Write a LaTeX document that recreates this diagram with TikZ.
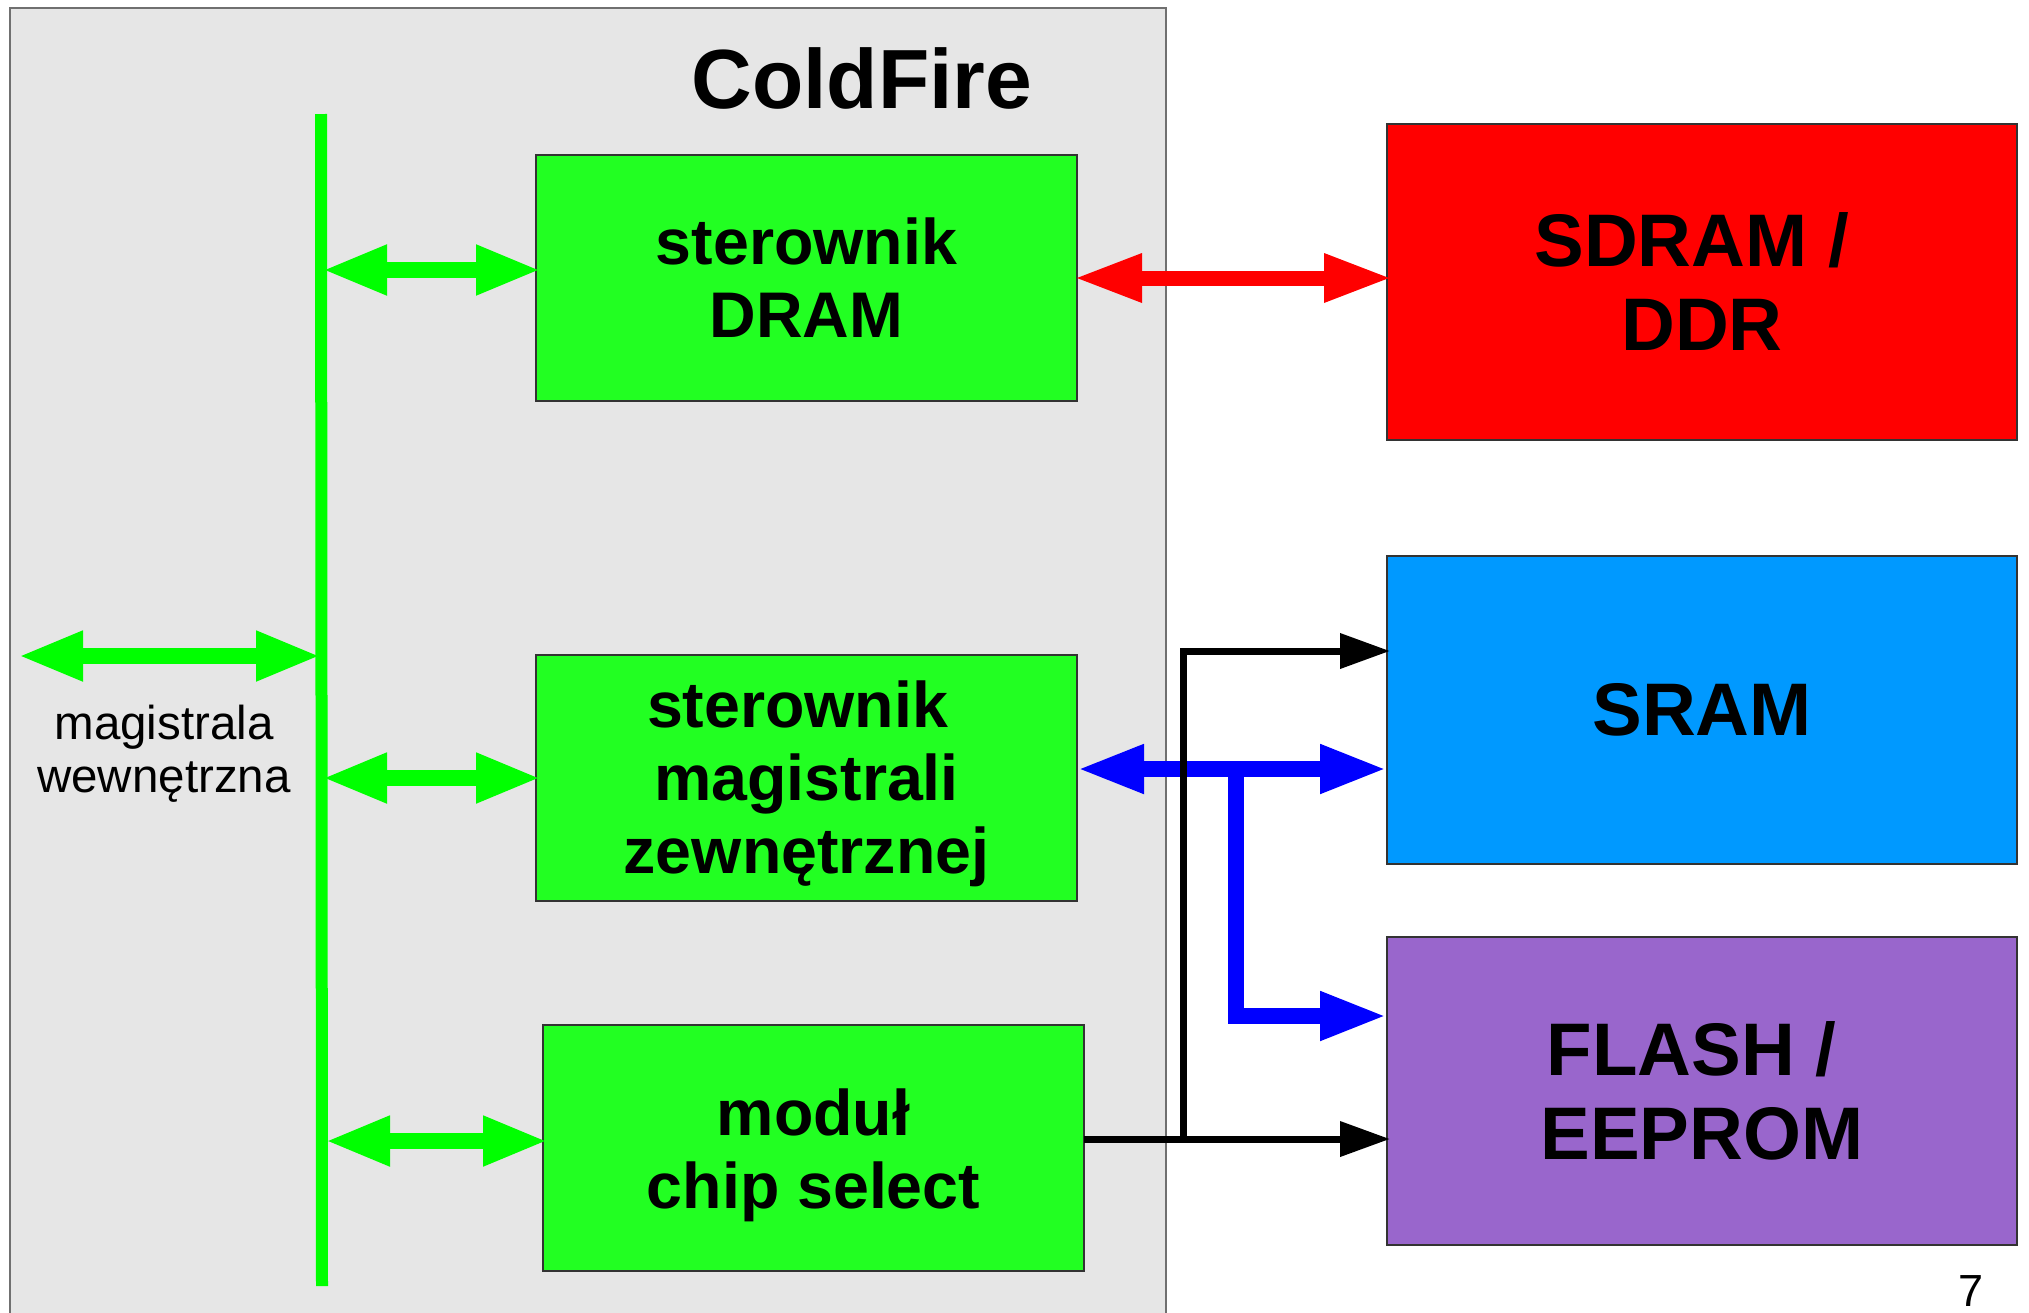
\documentclass[tikz,border=0pt]{standalone}
\usepackage{fontspec}
\setmainfont{Liberation Sans}
\usetikzlibrary{arrows.meta}
\definecolor{bggray}{HTML}{E6E6E6}
\definecolor{boxgreen}{HTML}{22FF22}
\definecolor{busgreen}{HTML}{00FF00}
\definecolor{sdramred}{HTML}{FF0000}
\definecolor{sramblue}{HTML}{0099FF}
\definecolor{flashviolet}{HTML}{9966CC}
\definecolor{edgegray}{HTML}{333333}
\tikzset{
  unitbox/.style={draw=edgegray, line width=1.5pt, inner sep=0pt, outer sep=0pt, anchor=north west},
  unittext/.style={font=\fontsize{64.5}{73}\selectfont\bfseries, align=center, inner sep=0pt},
  membox/.style={draw=edgegray, line width=1.5pt, inner sep=0pt, outer sep=0pt, anchor=north west,
    font=\fontsize{74.5}{84}\selectfont\bfseries, align=center},
  greenarrow/.style={busgreen, line width=16pt, shorten <=-5pt, shorten >=-5pt, {Triangle[length=65pt,width=46pt]}-{Triangle[length=65pt,width=46pt]}},
  redarrow/.style={sdramred, line width=15pt, shorten <=-5pt, shorten >=-5pt, {Triangle[length=68pt,width=45pt]}-{Triangle[length=68pt,width=45pt]}},
  bluearrow/.style={blue, line width=16pt},
  bluetip/.style={shorten >=-5pt, -{Triangle[length=67pt,width=45pt]}},
  blackline/.style={black, line width=7pt},
  blacktip/.style={shorten >=-3pt, -{Triangle[length=50pt,width=34pt]}},
}
\begin{document}
\begin{tikzpicture}[x=1pt,y=-1pt]
\useasboundingbox (0,0) rectangle (2029,1312);
\fill[white] (0,0) rectangle (2029,1312);
% ColdFire area
\draw[fill=bggray, draw=edgegray!70, line width=1.5pt] (10,8) rectangle (1166,1330);
\node[font=\fontsize{84}{90}\selectfont\bfseries] (title) at (862,78) {ColdFire};

% green units
\node[unitbox, fill=boxgreen, minimum width=541pt, minimum height=246pt] (dram) at (536,155) {};
\node[unittext] (dramtext) at (dram.center) {sterownik\\DRAM};
\node[unitbox, fill=boxgreen, minimum width=541pt, minimum height=246pt] (ebc) at (536,655) {};
\node[unittext] (ebctext) at ([yshift=-6pt]ebc.center) {sterownik\hspace*{0.278em}\\magistrali\hspace*{0.278em}\\zewnętrznej};
\node[unitbox, fill=boxgreen, minimum width=541pt, minimum height=246pt] (cs) at (543,1025) {};
\node[unittext] (cstext) at ([yshift=-7pt]cs.center) {moduł\\chip select};

% memories
\node[membox, fill=sdramred, minimum width=630pt, minimum height=316pt] (sdram) at (1387,124) {SDRAM /\hspace*{0.278em}\\DDR};
\node[membox, fill=sramblue, minimum width=630pt, minimum height=308pt] (sram) at (1387,556) {SRAM};
\node[membox, fill=flashviolet, minimum width=630pt, minimum height=308pt] (flash) at (1387,937) {FLASH /\hspace*{0.278em}\\EEPROM};

% internal bus
\coordinate (bustop) at (321,114);
\coordinate (busbot) at (322,1286);
\draw[busgreen, line width=12pt] (bustop) -- (busbot);
\coordinate (b1) at (327,270);
\coordinate (b2) at (327,778);
\coordinate (b3) at (330,1141);
\coordinate (b0) at (316,656);
\coordinate (ext) at (23,656);
\draw[greenarrow] (b1) -- (b1 -| dram.west);
\draw[greenarrow] (b2) -- (b2 -| ebc.west);
\draw[greenarrow] (b3) -- (b3 -| cs.west);
\draw[greenarrow] (ext) -- (b0);
\node[font=\fontsize{47.5}{53}\selectfont, align=center] (intbus) at (164,754) {magistrala\\wewnętrzna};

% DRAM link
\coordinate (r1) at (1079,278);
\draw[redarrow] (r1) -- (r1 -| sdram.west);

% external bus
\coordinate (bl) at (1082,769);
\coordinate (br) at (1382,769);
\coordinate (bj) at (1236,769);
\coordinate (bf) at (1382,1016);
\draw[bluearrow, shorten <=-5pt, shorten >=-5pt, {Triangle[length=67pt,width=45pt]}-{Triangle[length=67pt,width=45pt]}] (bl) -- (br);
\draw[bluearrow, bluetip] (bj) -- (bj |- bf) -- (bf);

% chip select lines
\coordinate (cstop) at (1183,648);
\coordinate (csj) at (1183,1139);
\coordinate (cs1) at (1183,651);
\draw[blackline, blacktip] (cs.east |- csj) -- (flash.west |- csj);
\draw[blackline] (cstop) -- (csj);
\draw[blackline, blacktip] (cs1) -- (sram.west |- cs1);

% page number
\node[font=\fontsize{45}{50}\selectfont] (pagenum) at (1971,1291) {7};
\end{tikzpicture}
\end{document}
